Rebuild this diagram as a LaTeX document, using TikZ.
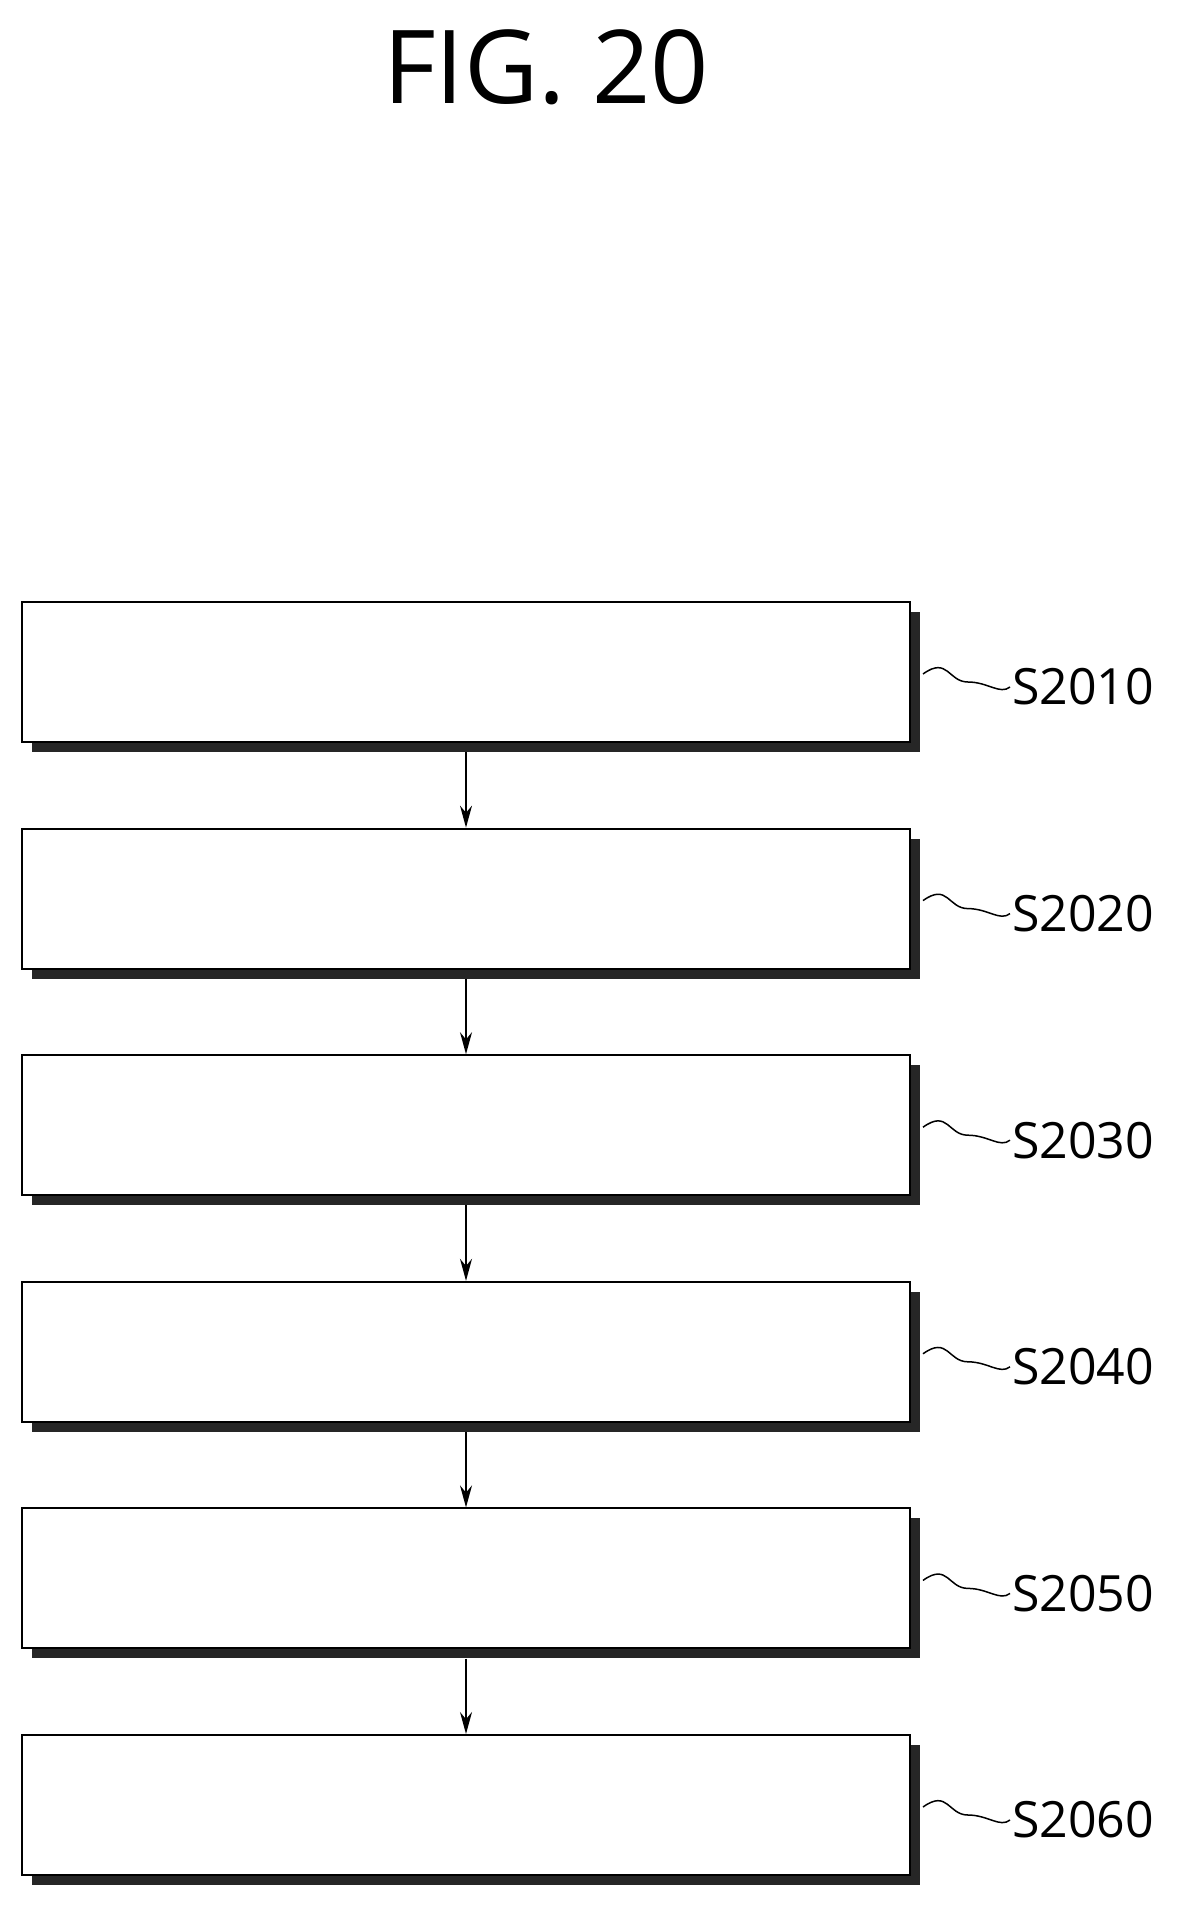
\documentclass[tikz,border=0pt]{standalone}
\usepackage{fontspec}
\setmainfont{Open Sans}
\usetikzlibrary{arrows.meta}
\begin{document}
\begin{tikzpicture}[x=1pt,y=-1pt,
  stepbox/.style={draw=black,line width=2pt,fill=white,minimum width=888pt,minimum height=140pt,inner sep=0pt},
  shadowbox/.style={fill=black!85,minimum width=888pt,minimum height=140pt,inner sep=0pt},
  lbl/.style={font=\fontsize{50}{54}\selectfont,anchor=west,inner sep=0pt},
  arr/.style={line width=1.5pt,-{Stealth[length=22pt,width=12pt]}}]
\useasboundingbox (0,0) rectangle (1178,1921);
\node (title) at (546,67) {\fontsize{102}{110}\selectfont FIG. 20};
\foreach \i/\t in {1/S2010,2/S2020,3/S2030,4/S2040,5/S2050,6/S2060}{
  \pgfmathsetmacro{\yy}{672+(\i-1)*226.6}
  \node[shadowbox] (sh\i) at (476,\yy+10) {};
  \node[stepbox] (b\i) at (466,\yy) {};
  \node[lbl] (l\i) at (1012,\yy+15) {\t};
  \draw[line width=1.5pt] (b\i.east) ++(12,2) coordinate (c\i)
    .. controls +(25,-18) and +(-20,0) .. +(45,8)
    .. controls +(20,0) and +(-10,8) .. ([xshift=-2pt]l\i.west);
}
\foreach \i/\j in {1/2,2/3,3/4,4/5,5/6}{
  \draw[arr] (sh\i.south -| b\i.south) -- (b\j.north);
}
\end{tikzpicture}
\end{document}
